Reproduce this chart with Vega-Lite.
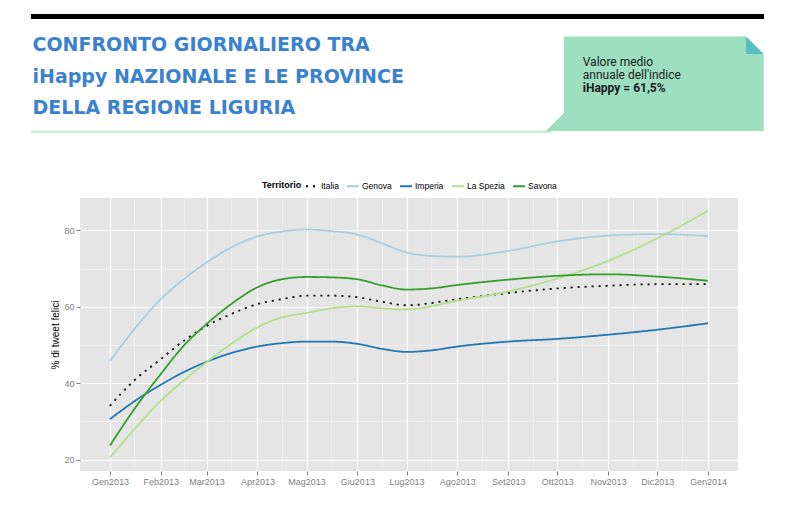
{
  "$schema": "https://vega.github.io/schema/vega-lite/v6.json",
  "background": "white",
  "padding": {"left": 30, "top": 14, "right": 5, "bottom": 5},
  "spacing": 45,
  "resolve": {
    "scale": {"x": "independent", "y": "independent", "color": "independent", "strokeDash": "independent"}
  },
  "vconcat": [
    {
      "width": 658,
      "height": 120,
      "view": {"stroke": null, "fill": null},
      "data": {"values": [{}]},
      "layer": [
        {
          "mark": {"type": "rect", "color": "#000000"},
          "encoding": {
            "x": {"datum": 0, "type": "quantitative", "scale": {"domain": [0.06685, 0.96453], "nice": false, "zero": false}, "axis": null},
            "x2": {"datum": 1},
            "y": {"datum": 0, "type": "quantitative", "scale": {"domain": [0, 1], "nice": false, "reverse": true}, "axis": null},
            "y2": {"datum": 0.0417}
          }
        },
        {
          "mark": {"type": "rect", "color": "#c8eedc"},
          "encoding": {
            "x": {"datum": 0, "type": "quantitative"},
            "x2": {"datum": 0.71},
            "y": {"datum": 0.971, "type": "quantitative"},
            "y2": {"datum": 0.992}
          }
        },
        {
          "mark": {
            "type": "point",
            "shape": "M-0.835,-0.434L0.837,-0.434L1,-0.273L1,0.434L-1,0.434L-0.835,0.269Z",
            "size": 47393,
            "filled": true,
            "opacity": 1,
            "strokeWidth": 0,
            "color": "#9de0c0"
          },
          "encoding": {
            "x": {"datum": 0.8511, "type": "quantitative"},
            "y": {"datum": 0.5813, "type": "quantitative"}
          }
        },
        {
          "mark": {
            "type": "point",
            "shape": "M0.837,-0.434L1,-0.273L0.837,-0.273Z",
            "size": 47393,
            "filled": true,
            "opacity": 1,
            "strokeWidth": 0,
            "color": "#5bbec5"
          },
          "encoding": {
            "x": {"datum": 0.8511, "type": "quantitative"},
            "y": {"datum": 0.5813, "type": "quantitative"}
          }
        },
        {
          "mark": {
            "type": "text",
            "text": ["CONFRONTO GIORNALIERO TRA", "iHappy NAZIONALE E LE PROVINCE", "DELLA REGIONE LIGURIA"],
            "align": "left",
            "baseline": "alphabetic",
            "font": "DejaVu Sans",
            "fontWeight": "bold",
            "fontSize": 19,
            "lineHeight": 31.8,
            "color": "#3a82d0"
          },
          "encoding": {
            "x": {"datum": 0.002, "type": "quantitative"},
            "y": {"datum": 0.306, "type": "quantitative"}
          }
        },
        {
          "mark": {
            "type": "text",
            "text": ["Valore medio", "annuale dell'indice"],
            "align": "left",
            "baseline": "alphabetic",
            "font": "Roboto",
            "fontSize": 12,
            "lineHeight": 13.2,
            "color": "#1a1a1a"
          },
          "encoding": {
            "x": {"datum": 0.7527, "type": "quantitative"},
            "y": {"datum": 0.431, "type": "quantitative"}
          }
        },
        {
          "mark": {
            "type": "text",
            "text": "iHappy = 61,5%",
            "align": "left",
            "baseline": "alphabetic",
            "font": "Roboto",
            "fontWeight": "bold",
            "fontSize": 12,
            "color": "#1a1a1a"
          },
          "encoding": {
            "x": {"datum": 0.7527, "type": "quantitative"},
            "y": {"datum": 0.646, "type": "quantitative"}
          }
        }
      ]
    },
    {
      "width": 658,
      "height": 273,
      "view": {"fill": "#e5e5e5", "stroke": null},
      "data": {
        "values": [
          {"territorio": "Italia", "data": "2013-01-01", "felici": 34.1},
          {"territorio": "Italia", "data": "2013-01-16", "felici": 40.8},
          {"territorio": "Italia", "data": "2013-02-01", "felici": 46.3},
          {"territorio": "Italia", "data": "2013-02-15", "felici": 51.1},
          {"territorio": "Italia", "data": "2013-03-01", "felici": 55.0},
          {"territorio": "Italia", "data": "2013-03-16", "felici": 58.1},
          {"territorio": "Italia", "data": "2013-04-01", "felici": 60.7},
          {"territorio": "Italia", "data": "2013-04-16", "felici": 62.0},
          {"territorio": "Italia", "data": "2013-05-01", "felici": 62.9},
          {"territorio": "Italia", "data": "2013-05-16", "felici": 62.9},
          {"territorio": "Italia", "data": "2013-06-01", "felici": 62.5},
          {"territorio": "Italia", "data": "2013-06-16", "felici": 61.3},
          {"territorio": "Italia", "data": "2013-07-01", "felici": 60.4},
          {"territorio": "Italia", "data": "2013-08-01", "felici": 62.0},
          {"territorio": "Italia", "data": "2013-09-01", "felici": 63.6},
          {"territorio": "Italia", "data": "2013-10-01", "felici": 64.8},
          {"territorio": "Italia", "data": "2013-11-01", "felici": 65.5},
          {"territorio": "Italia", "data": "2013-12-01", "felici": 65.9},
          {"territorio": "Italia", "data": "2014-01-01", "felici": 65.9},
          {"territorio": "Genova", "data": "2013-01-01", "felici": 45.9},
          {"territorio": "Genova", "data": "2013-01-16", "felici": 54.2},
          {"territorio": "Genova", "data": "2013-02-01", "felici": 62.0},
          {"territorio": "Genova", "data": "2013-02-15", "felici": 67.2},
          {"territorio": "Genova", "data": "2013-03-01", "felici": 71.6},
          {"territorio": "Genova", "data": "2013-03-16", "felici": 75.5},
          {"territorio": "Genova", "data": "2013-04-01", "felici": 78.4},
          {"territorio": "Genova", "data": "2013-04-16", "felici": 79.7},
          {"territorio": "Genova", "data": "2013-05-01", "felici": 80.2},
          {"territorio": "Genova", "data": "2013-05-16", "felici": 79.8},
          {"territorio": "Genova", "data": "2013-06-01", "felici": 78.9},
          {"territorio": "Genova", "data": "2013-06-16", "felici": 76.6},
          {"territorio": "Genova", "data": "2013-07-01", "felici": 74.2},
          {"territorio": "Genova", "data": "2013-07-16", "felici": 73.3},
          {"territorio": "Genova", "data": "2013-08-01", "felici": 73.1},
          {"territorio": "Genova", "data": "2013-09-01", "felici": 74.6},
          {"territorio": "Genova", "data": "2013-10-01", "felici": 77.1},
          {"territorio": "Genova", "data": "2013-11-01", "felici": 78.6},
          {"territorio": "Genova", "data": "2013-12-01", "felici": 79.0},
          {"territorio": "Genova", "data": "2014-01-01", "felici": 78.5},
          {"territorio": "Imperia", "data": "2013-01-01", "felici": 30.6},
          {"territorio": "Imperia", "data": "2013-01-16", "felici": 35.3},
          {"territorio": "Imperia", "data": "2013-02-01", "felici": 39.6},
          {"territorio": "Imperia", "data": "2013-02-15", "felici": 42.9},
          {"territorio": "Imperia", "data": "2013-03-01", "felici": 45.6},
          {"territorio": "Imperia", "data": "2013-03-16", "felici": 47.9},
          {"territorio": "Imperia", "data": "2013-04-01", "felici": 49.6},
          {"territorio": "Imperia", "data": "2013-04-16", "felici": 50.5},
          {"territorio": "Imperia", "data": "2013-05-01", "felici": 50.9},
          {"territorio": "Imperia", "data": "2013-05-16", "felici": 50.9},
          {"territorio": "Imperia", "data": "2013-06-01", "felici": 50.3},
          {"territorio": "Imperia", "data": "2013-06-16", "felici": 49.0},
          {"territorio": "Imperia", "data": "2013-07-01", "felici": 48.2},
          {"territorio": "Imperia", "data": "2013-07-16", "felici": 48.6},
          {"territorio": "Imperia", "data": "2013-08-01", "felici": 49.6},
          {"territorio": "Imperia", "data": "2013-09-01", "felici": 50.9},
          {"territorio": "Imperia", "data": "2013-10-01", "felici": 51.6},
          {"territorio": "Imperia", "data": "2013-11-01", "felici": 52.7},
          {"territorio": "Imperia", "data": "2013-12-01", "felici": 54.0},
          {"territorio": "Imperia", "data": "2014-01-01", "felici": 55.7},
          {"territorio": "La Spezia", "data": "2013-01-01", "felici": 20.6},
          {"territorio": "La Spezia", "data": "2013-01-16", "felici": 28.0},
          {"territorio": "La Spezia", "data": "2013-02-01", "felici": 35.4},
          {"territorio": "La Spezia", "data": "2013-02-15", "felici": 40.7},
          {"territorio": "La Spezia", "data": "2013-03-01", "felici": 45.5},
          {"territorio": "La Spezia", "data": "2013-03-16", "felici": 50.3},
          {"territorio": "La Spezia", "data": "2013-04-01", "felici": 54.6},
          {"territorio": "La Spezia", "data": "2013-04-16", "felici": 57.2},
          {"territorio": "La Spezia", "data": "2013-05-01", "felici": 58.4},
          {"territorio": "La Spezia", "data": "2013-05-16", "felici": 59.6},
          {"territorio": "La Spezia", "data": "2013-06-01", "felici": 60.1},
          {"territorio": "La Spezia", "data": "2013-06-16", "felici": 59.6},
          {"territorio": "La Spezia", "data": "2013-07-01", "felici": 59.3},
          {"territorio": "La Spezia", "data": "2013-08-01", "felici": 61.6},
          {"territorio": "La Spezia", "data": "2013-09-01", "felici": 64.0},
          {"territorio": "La Spezia", "data": "2013-10-01", "felici": 67.4},
          {"territorio": "La Spezia", "data": "2013-11-01", "felici": 72.0},
          {"territorio": "La Spezia", "data": "2013-12-01", "felici": 77.9},
          {"territorio": "La Spezia", "data": "2014-01-01", "felici": 85.1},
          {"territorio": "Savona", "data": "2013-01-01", "felici": 23.7},
          {"territorio": "Savona", "data": "2013-01-16", "felici": 33.3},
          {"territorio": "Savona", "data": "2013-02-01", "felici": 42.4},
          {"territorio": "Savona", "data": "2013-02-15", "felici": 49.8},
          {"territorio": "Savona", "data": "2013-03-01", "felici": 55.5},
          {"territorio": "Savona", "data": "2013-03-16", "felici": 60.7},
          {"territorio": "Savona", "data": "2013-04-01", "felici": 65.1},
          {"territorio": "Savona", "data": "2013-04-16", "felici": 67.2},
          {"territorio": "Savona", "data": "2013-05-01", "felici": 67.8},
          {"territorio": "Savona", "data": "2013-05-16", "felici": 67.7},
          {"territorio": "Savona", "data": "2013-06-01", "felici": 67.2},
          {"territorio": "Savona", "data": "2013-06-16", "felici": 65.6},
          {"territorio": "Savona", "data": "2013-07-01", "felici": 64.5},
          {"territorio": "Savona", "data": "2013-07-16", "felici": 64.8},
          {"territorio": "Savona", "data": "2013-08-01", "felici": 65.7},
          {"territorio": "Savona", "data": "2013-09-01", "felici": 67.1},
          {"territorio": "Savona", "data": "2013-10-01", "felici": 68.1},
          {"territorio": "Savona", "data": "2013-11-01", "felici": 68.5},
          {"territorio": "Savona", "data": "2013-12-01", "felici": 67.9},
          {"territorio": "Savona", "data": "2014-01-01", "felici": 66.8}
        ]
      },
      "mark": {"type": "line", "interpolate": "monotone", "strokeWidth": 1.8, "strokeCap": "butt"},
      "encoding": {
        "x": {
          "field": "data",
          "type": "temporal",
          "scale": {
            "type": "utc",
            "domain": [
              {"year": 2012, "month": 12, "date": 13, "hours": 18, "utc": true},
              {"year": 2014, "month": 1, "date": 19, "hours": 6, "utc": true}
            ]
          },
          "axis": {
            "title": null,
            "values": [
              {"year": 2013, "month": 1, "date": 1, "utc": true},
              {"year": 2013, "month": 1, "date": 16, "utc": true},
              {"year": 2013, "month": 2, "date": 1, "utc": true},
              {"year": 2013, "month": 2, "date": 15, "utc": true},
              {"year": 2013, "month": 3, "date": 1, "utc": true},
              {"year": 2013, "month": 3, "date": 16, "utc": true},
              {"year": 2013, "month": 4, "date": 1, "utc": true},
              {"year": 2013, "month": 4, "date": 16, "utc": true},
              {"year": 2013, "month": 5, "date": 1, "utc": true},
              {"year": 2013, "month": 5, "date": 16, "utc": true},
              {"year": 2013, "month": 6, "date": 1, "utc": true},
              {"year": 2013, "month": 6, "date": 16, "utc": true},
              {"year": 2013, "month": 7, "date": 1, "utc": true},
              {"year": 2013, "month": 7, "date": 16, "utc": true},
              {"year": 2013, "month": 8, "date": 1, "utc": true},
              {"year": 2013, "month": 8, "date": 16, "utc": true},
              {"year": 2013, "month": 9, "date": 1, "utc": true},
              {"year": 2013, "month": 9, "date": 16, "utc": true},
              {"year": 2013, "month": 10, "date": 1, "utc": true},
              {"year": 2013, "month": 10, "date": 16, "utc": true},
              {"year": 2013, "month": 11, "date": 1, "utc": true},
              {"year": 2013, "month": 11, "date": 16, "utc": true},
              {"year": 2013, "month": 12, "date": 1, "utc": true},
              {"year": 2013, "month": 12, "date": 16, "utc": true},
              {"year": 2014, "month": 1, "date": 1, "utc": true}
            ],
            "labelExpr": "utcdate(datum.value) == 1 ? ['Gen','Feb','Mar','Apr','Mag','Giu','Lug','Ago','Set','Ott','Nov','Dic'][utcmonth(datum.value)] + utcyear(datum.value) : ''",
            "labelOverlap": false,
            "labelFlush": false,
            "grid": true,
            "gridColor": {"condition": {"test": "utcdate(datum.value) == 1", "value": "#ffffff"}, "value": "#f2f2f2"},
            "gridWidth": {"condition": {"test": "utcdate(datum.value) == 1", "value": 1.2}, "value": 0.6},
            "tickOpacity": {"condition": {"test": "utcdate(datum.value) == 1", "value": 1}, "value": 0}
          }
        },
        "y": {
          "field": "felici",
          "type": "quantitative",
          "title": "% di tweet felici",
          "scale": {"domain": [17.05, 88.45], "nice": false, "zero": false},
          "axis": {
            "values": [20, 30, 40, 50, 60, 70, 80],
            "labelExpr": "datum.value % 20 == 0 ? datum.label : ''",
            "grid": true,
            "gridColor": {"condition": {"test": "datum.value % 20 == 0", "value": "#ffffff"}, "value": "#f2f2f2"},
            "gridWidth": {"condition": {"test": "datum.value % 20 == 0", "value": 1.2}, "value": 0.6},
            "tickOpacity": {"condition": {"test": "datum.value % 20 == 0", "value": 1}, "value": 0},
            "titlePadding": 3
          }
        },
        "color": {
          "field": "territorio",
          "type": "nominal",
          "title": "Territorio",
          "scale": {
            "domain": ["Italia", "Genova", "Imperia", "La Spezia", "Savona"],
            "range": ["#000000", "#a6cee3", "#1f78b4", "#b2df8a", "#33a02c"]
          }
        },
        "strokeDash": {
          "field": "territorio",
          "type": "nominal",
          "title": "Territorio",
          "scale": {
            "domain": ["Italia", "Genova", "Imperia", "La Spezia", "Savona"],
            "range": [[2, 5], [1, 0], [1, 0], [1, 0], [1, 0]]
          }
        }
      }
    }
  ],
  "config": {
    "font": "Liberation Sans",
    "view": {"stroke": null},
    "axis": {
      "domain": false,
      "labelFont": "Liberation Sans",
      "labelFontSize": 9,
      "labelColor": "#7f7f7f",
      "labelPadding": 2,
      "tickColor": "#7f7f7f",
      "tickSize": 4,
      "titleFont": "Liberation Sans",
      "titleFontSize": 10,
      "titleFontWeight": "normal",
      "titleColor": "#000000"
    },
    "legend": {
      "orient": "top",
      "direction": "horizontal",
      "titleOrient": "left",
      "titleFont": "Liberation Sans",
      "titleFontSize": 9,
      "titleFontWeight": "bold",
      "titleColor": "#000000",
      "titlePadding": 3,
      "labelFont": "Liberation Sans",
      "labelFontSize": 8.5,
      "labelColor": "#000000",
      "labelOffset": 2,
      "columnPadding": 4,
      "symbolType": "stroke",
      "symbolSize": 144,
      "symbolStrokeWidth": 1.8,
      "offset": 7,
      "layout": {"top": {"anchor": "middle"}}
    }
  }
}
